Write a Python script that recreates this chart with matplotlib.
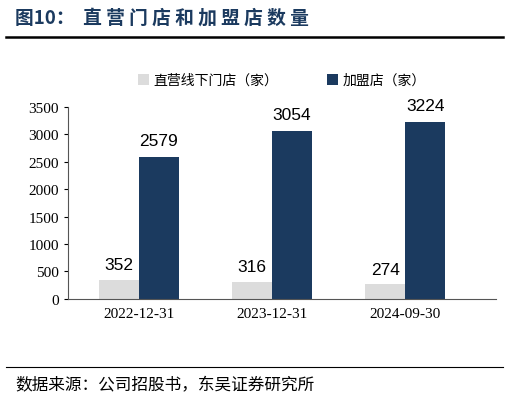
import matplotlib
matplotlib.use("Agg")
import matplotlib.pyplot as plt
import numpy as np

plt.rcParams['font.family'] = ['Noto Sans CJK SC', 'DejaVu Sans']

categories = ["2022-12-31", "2023-12-31", "2024-09-30"]
direct_stores = [352, 316, 274]
franchise_stores = [2579, 3054, 3224]

GRAY = "#dcdcdc"
NAVY = "#1b3a5f"
SERIF = ['Liberation Serif', 'DejaVu Serif']

fig = plt.figure(figsize=(5.09, 4.02), dpi=100)
fig.text(0.03, 0.955, "图10：  直 营 门 店 和 加 盟 店 数 量", fontsize=13.5, fontweight='bold',
         color=NAVY, va='center')
fig.add_artist(plt.Line2D([0.012, 0.988], [0.905, 0.905], color='black', lw=1.8))
fig.add_artist(plt.Line2D([0.012, 0.988], [0.085, 0.085], color='black', lw=0.8))
fig.text(0.03, 0.04, "数据来源：公司招股书，东吴证券研究所", fontsize=12, va='center')

ax = fig.add_axes([0.134, 0.254, 0.84, 0.478])
x = np.arange(len(categories))
w = 0.3
b1 = ax.bar(x - w / 2, direct_stores, w, color=GRAY, label="直营线下门店（家）")
b2 = ax.bar(x + w / 2, franchise_stores, w, color=NAVY, label="加盟店（家）")
for rect, v in zip(b1, direct_stores):
    ax.text(rect.get_x() + rect.get_width() / 2, v + 130, str(v), ha='center',
            va='bottom', fontsize=12.5, family=['Liberation Sans', 'DejaVu Sans'])
for rect, v in zip(b2, franchise_stores):
    ax.text(rect.get_x() + rect.get_width() / 2, v + 170, str(v), ha='center',
            va='bottom', fontsize=12.5, family=['Liberation Sans', 'DejaVu Sans'])

ax.set_xlim(-0.53, 2.68)
ax.set_ylim(0, 3500)
ax.set_yticks(range(0, 3501, 500))
ax.set_xticks(x)
ax.set_xticklabels(categories)
for lab in ax.get_xticklabels() + ax.get_yticklabels():
    lab.set_family(SERIF)
    lab.set_fontsize(11)
ax.tick_params(axis='x', length=0, pad=6)
ax.tick_params(axis='y', length=3, direction='out')
ax.spines['top'].set_visible(False)
ax.spines['right'].set_visible(False)
ax.spines['left'].set_color('#555555')
ax.spines['bottom'].set_color('#555555')

ax.legend(loc='upper center', bbox_to_anchor=(0.5, 1.24), ncol=2, frameon=False,
          fontsize=10, handlelength=0.8, handleheight=0.8, handletextpad=0.3,
          columnspacing=3.5)

fig.savefig("out.png", dpi=100)
